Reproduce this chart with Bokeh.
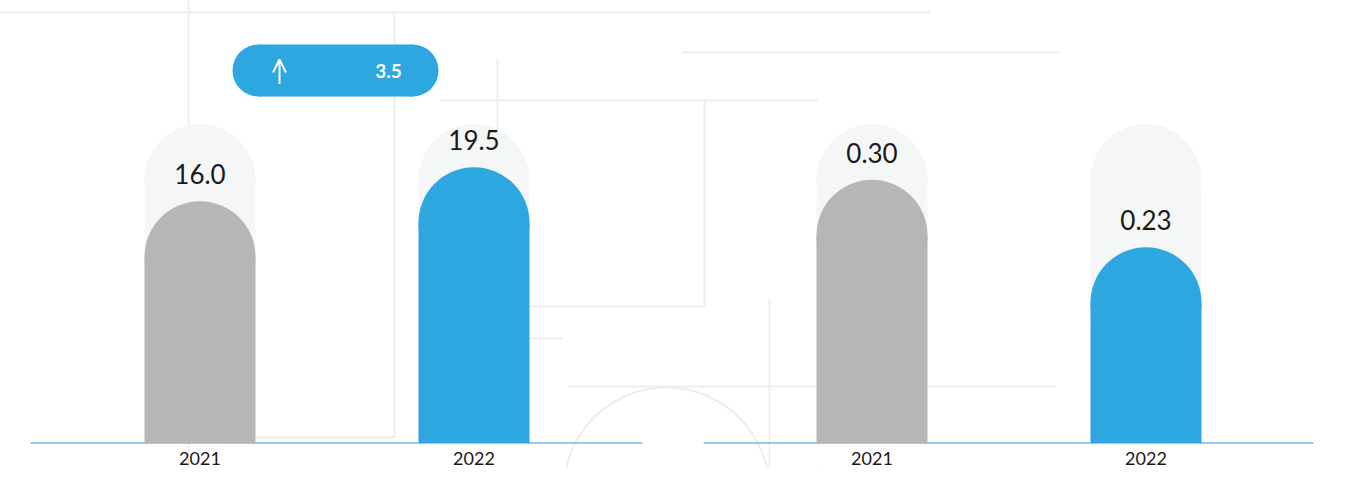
from bokeh.plotting import figure
from bokeh.models import Range1d, ColumnDataSource, Arrow, OpenHead
from bokeh.core.properties import value
from bokeh.embed import file_html
from bokeh.resources import INLINE

# ---------------- data ----------------
years = ["2021", "2022"]
panel_a_values = [16.0, 19.5]
panel_b_values = [0.30, 0.23]
panel_a_labels = ["16.0", "19.5"]
panel_b_labels = ["0.30", "0.23"]
change_label = "3.5"

# ---------------- style ----------------
GRAY = "#b5b6b5"
BLUE = "#2ea6e0"
TRACK = "#f5f7f6"
DECO = "#eeeeee"
TEXT = "#1a1a1a"
BASE = "#3a9ad9"
FONT = "Lato"

W, H = 1330, 468

# category layout along x
first_center = 199.5
cat_step = 274
group_gap = 124
bar_px = 111
r_px = bar_px / 2

baseline_y = 442.5            # pixel y of the value axis floor
base_px = H - baseline_y      # baseline height above bottom of frame
a_floor, a_ppu = -8.89, 9.714
b_floor, b_ppu = 0.0267, 962.9

ya = Range1d(a_floor - base_px / a_ppu, a_floor + (H - base_px) / a_ppu)
yb = Range1d(b_floor - base_px / b_ppu, b_floor + (H - base_px) / b_ppu)

p = figure(width=W, height=H, x_range=Range1d(0, W),
           y_range=Range1d(H, 0),
           x_axis_type=None, y_axis_type=None,
           output_backend="svg", toolbar_location=None,
           min_border=0, outline_line_color=None,
           background_fill_color="white", border_fill_color="white")
p.extra_y_ranges = {"a": ya, "b": yb}


def centers(group):
    return [first_center + (group * 2 + i) * cat_step + group * group_gap
            for i in range(len(years))]


xa, xb = centers(0), centers(1)

# ---------------- decorative background lines ----------------
deco_x0 = [0, 188, 394, 188, 497, 440, 704, 497, 497, 682, 568, 769, 818]
deco_y0 = [12, 0, 13, 437, 57, 100, 100, 306, 338, 52, 386, 297, 466]
deco_x1 = [930, 188, 394, 394, 497, 817, 704, 704, 562, 1060, 1055, 769, 818]
deco_y1 = [12, 484, 437, 437, 442, 100, 306, 306, 338, 52, 386, 484, 484]
p.segment(x0=deco_x0, y0=deco_y0, x1=deco_x1, y1=deco_y1, line_color=DECO,
          line_width=2)
p.circle(x=[666], y=[490], radius=103, fill_color=None, line_color=DECO,
         line_width=2)

# ---------------- tracks (light capsules) ----------------
track_top = 123.5
all_x = xa + xb
p.vbar(x=all_x, width=bar_px, top=track_top + r_px, bottom=baseline_y,
       fill_color=TRACK, line_color=None)
p.circle(x=all_x, y=[track_top + r_px] * 4, radius=r_px,
         fill_color=TRACK, line_color=None)

# ---------------- baselines ----------------
p.segment(x0=[30, 703], y0=[baseline_y] * 2, x1=[642, 1313], y1=[baseline_y] * 2,
          line_color=BASE, line_width=1.2)

colors = [GRAY, BLUE]


def panel(xs, vals, labels, floor, ppu, yname):
    cap_y = [v - r_px / ppu for v in vals]
    src = ColumnDataSource(dict(x=xs, top=cap_y, v=vals, c=colors,
                                lab=labels, yr=years, fl=[floor] * len(vals)))
    p.vbar(x="x", width=bar_px, top="top", bottom="fl", fill_color="c",
           line_color=None, source=src, y_range_name=yname)
    p.circle(x="x", y="top", radius=r_px, radius_units="screen", fill_color="c",
             line_color=None, source=src, y_range_name=yname)
    p.text(x="x", y="v", text="lab", y_offset=-27, text_align="center",
           text_baseline="middle", text_font=value(FONT), text_font_size="26px",
           text_color=TEXT, source=src, y_range_name=yname)
    p.text(x="x", y="fl", text="yr", y_offset=15, text_align="center",
           text_baseline="middle", text_font=value(FONT), text_font_size="18px",
           text_color=TEXT, source=src, y_range_name=yname)


panel(xa, panel_a_values, panel_a_labels, a_floor, a_ppu, "a")
panel(xb, panel_b_values, panel_b_labels, b_floor, b_ppu, "b")

# ---------------- change badge ----------------
p.quad(left=[258], right=[412], top=[44], bottom=[96], fill_color=BLUE,
       line_color=None)
p.circle(x=[258, 412], y=[70, 70], radius=26, fill_color=BLUE, line_color=None)
p.text(x=[388], y=[70], text=[change_label], text_align="center",
       text_baseline="middle", text_font=value(FONT), text_font_size="19px",
       text_font_style="bold", text_color="white")
p.add_layout(Arrow(x_start=279, y_start=83.5, x_end=279, y_end=59,
                   line_color="white", line_width=2,
                   end=OpenHead(size=13, line_color="white", line_width=2)))

open("out.html", "w").write(file_html(p, INLINE))
